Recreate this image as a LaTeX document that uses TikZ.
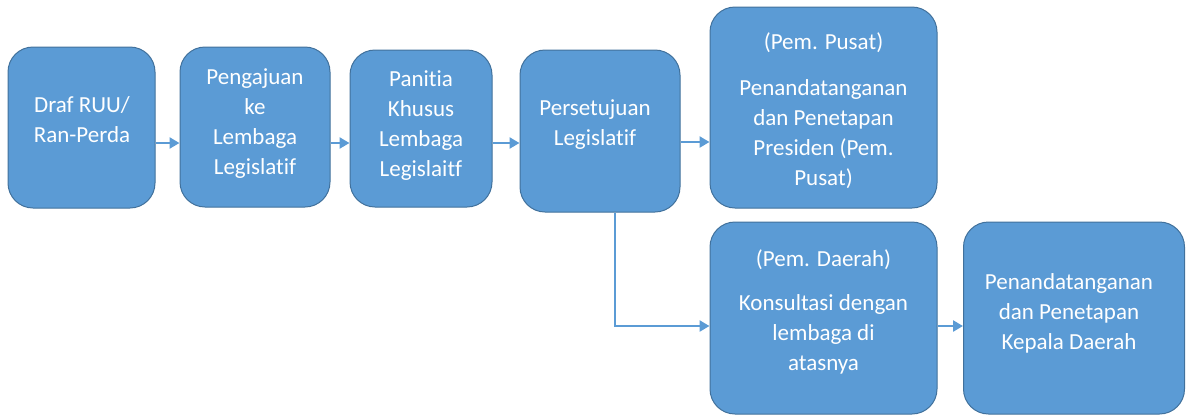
\documentclass[tikz,border=0pt]{standalone}
\usepackage{fontspec}
\setmainfont{Carlito}[RawFeature={-liga;-clig;-dlig}]
\usetikzlibrary{arrows.meta,calc}
\definecolor{boxfill}{HTML}{5B9BD5}
\definecolor{boxline}{HTML}{41719C}
\definecolor{arrowcol}{HTML}{5B9BD5}
\begin{document}
\begin{tikzpicture}[x=1pt,y=-1pt,
  stepbox/.style={draw=boxline, line width=1pt, fill=boxfill, rounded corners=25pt,
    inner sep=0pt},
  boxtext/.style={text=white, align=center, inner sep=0pt,
    font=\fontsize{23}{30}\selectfont},
  flow/.style={draw=arrowcol, line width=2.6pt,
    -{Triangle[length=10pt,width=11pt]}}]
\useasboundingbox (0,0) rectangle (1186,416);

% boxes of the procedure
\node[stepbox, minimum width=147pt, minimum height=161pt] (b1) at (81.5,127.5) {};
\node[stepbox, minimum width=150pt, minimum height=160pt] (b2) at (255,127) {};
\node[stepbox, minimum width=142pt, minimum height=157pt] (b3) at (421,128.5) {};
\node[stepbox, minimum width=160pt, minimum height=162pt] (b4) at (600,131) {};
\node[stepbox, minimum width=227pt, minimum height=201pt] (b5) at (823.5,107.5) {};
\node[stepbox, minimum width=227pt, minimum height=192pt] (b6) at (823.5,318) {};
\node[stepbox, minimum width=221pt, minimum height=192pt] (b7) at (1074,318) {};

% texts inside the boxes
\node[boxtext] (t1) at (82,120) {Draf RUU/\\Ran-Perda};
\node[boxtext] (t2) at (255,124) {Pengajuan\\ke\\Lembaga\\Legislatif};
\node[boxtext] (t3) at (421,126) {Panitia\\Khusus\\Lembaga\\Legislaitf};
\node[boxtext] (t4) at (595,125) {Persetujuan\\Legislatif};
\node[boxtext] (t5) at (823.5,111) {(Pem. Pusat)\\[16pt]Penandatanganan\\dan Penetapan\\Presiden (Pem.\\Pusat)};
\node[boxtext] (t6) at (823.5,312) {(Pem. Daerah)\\[14pt]Konsultasi dengan\\lembaga di\\atasnya};
\node[boxtext] (t7) at (1069,313) {Penandatanganan\\dan Penetapan\\Kepala Daerah};

% connectors
\coordinate (row) at (0,143);
\coordinate (rowb) at (0,142);
\coordinate (turn) at (615,326);
\draw[flow] (b1.east |- row) -- (b2.west |- row);
\draw[flow] (b2.east |- row) -- (b3.west |- row);
\draw[flow] (b3.east |- row) -- (b4.west |- row);
\draw[flow] (b4.east |- rowb) -- (b5.west |- rowb);
\draw[flow] (b4.south -| turn) |- (b6.west |- turn);
\draw[flow] (b6.east |- turn) -- (b7.west |- turn);
\end{tikzpicture}
\end{document}
